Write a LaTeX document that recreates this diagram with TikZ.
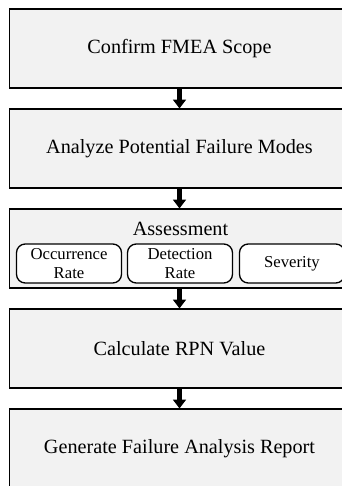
\documentclass[tikz,border=0pt]{standalone}
\usepackage{fontspec}
\setmainfont{Liberation Serif}
\usetikzlibrary{arrows.meta}
\definecolor{stagegray}{HTML}{F2F2F2}

\begin{document}
\begin{tikzpicture}[
      stage/.style={rectangle,draw,line width=0.6pt,fill=stagegray,minimum width=6.8cm,minimum height=1.58cm,align=center,font=\fontsize{11.5}{13.8}\selectfont},
      sub/.style={rectangle,draw,line width=0.75pt,fill=white,rounded corners=5pt,minimum width=2.1cm,minimum height=0.78cm,inner sep=1pt,align=center,font=\fontsize{9.5}{10.8}\selectfont},
      arr/.style={-{Triangle[width=7.2pt,length=5pt]},line width=2.3pt}
    ]
      \clip (0,0) rectangle (6.84,-9.72);
      % main stages
      \node[stage] (scope) at (3.59,-0.97)  {Confirm FMEA Scope};
      \node[stage] (modes) at (3.59,-2.97)  {Analyze Potential Failure Modes};
      \node[stage] (assess) at (3.59,-4.97) {};
      \node[stage] (rpn) at (3.59,-6.97)    {Calculate RPN Value};
      \node[stage] (report) at (3.59,-8.97) {Generate Failure Analysis Report};

      % assessment contents
      \node[font=\fontsize{11.5}{13.8}\selectfont] (atitle) at (3.61,-4.58) {Assessment};
      \node[sub] (occ) at (1.38,-5.27) {Occurrence\\Rate};
      \node[sub] (det) at (3.6,-5.27)  {Detection\\Rate};
      \node[sub] (sev) at (5.84,-5.27) {Severity};

      \draw[arr] (scope) -- (modes); \draw[arr] (modes) -- (assess);
      \draw[arr] (assess) -- (rpn); \draw[arr] (rpn) -- (report);
    \end{tikzpicture}
\end{document}
